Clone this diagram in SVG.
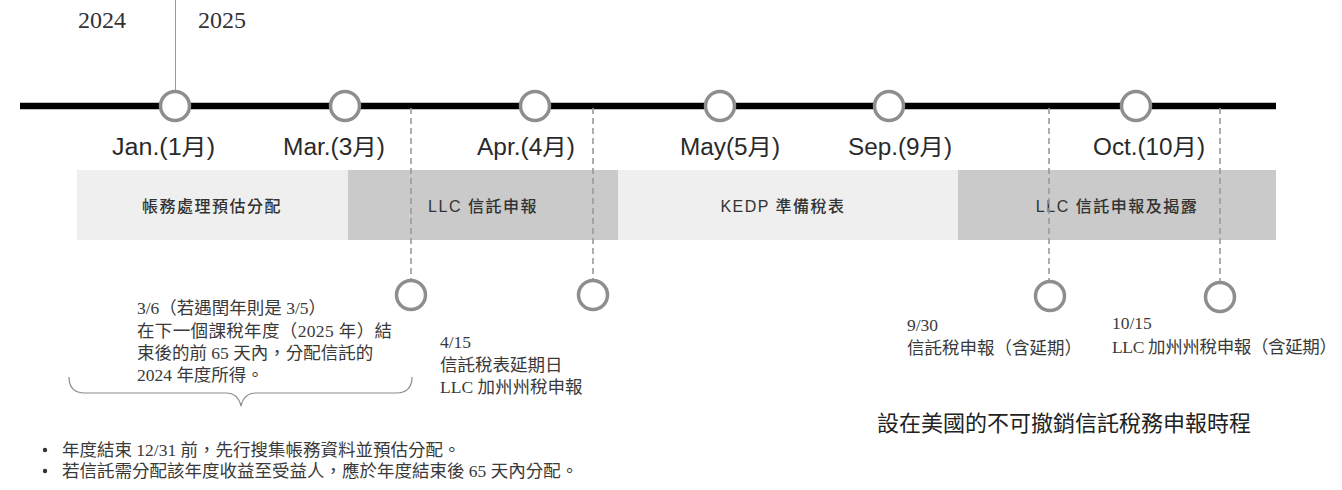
<svg xmlns="http://www.w3.org/2000/svg" width="1342" height="490" viewBox="0 0 1342 490" lang="zh-TW" xml:lang="zh-TW">
<style>
.bg{fill:#ffffff}
.barL{fill:#efefef}
.barD{fill:#c9cac9}
.dot{fill:#ffffff;stroke:#8e8e8e;stroke-width:3.5}
.month{font-family:"Liberation Sans","Noto Sans CJK TC",sans-serif;font-size:23px;fill:#2a2a2a}
.bar{font-family:"Liberation Sans","Noto Sans CJK TC",sans-serif;font-size:16px;font-weight:500;fill:#333333;text-anchor:middle;letter-spacing:1.5px}
.ser{font-family:"Liberation Serif","Noto Sans CJK TC",serif;font-size:17.5px;fill:#3a3a3a}
.bul{font-family:"Liberation Serif","Noto Sans CJK TC",serif;font-size:17.5px;fill:#3a3a3a}
.year{font-family:"Liberation Serif","Noto Sans CJK TC",serif;font-size:24px;fill:#333333}
.title{font-family:"Liberation Serif","Noto Sans CJK TC",serif;font-size:22px;fill:#222222}
.dash{stroke:#9a9a9a;stroke-width:1.6;stroke-dasharray:6 4;fill:none}
</style>
<rect class="bg" x="0" y="0" width="1342" height="490"/>

<g id="bars">
  <rect class="barL" x="77" y="170" width="271" height="70"/>
  <rect class="barD" x="348" y="170" width="270" height="70"/>
  <rect class="barL" x="618" y="170" width="340" height="70"/>
  <rect class="barD" x="958" y="170" width="318" height="70"/>
  <text class="bar" x="212" y="212">帳務處理預估分配</text>
  <text class="bar" x="483" y="212">LLC 信託申報</text>
  <text class="bar" x="783" y="212">KEDP 準備稅表</text>
  <text class="bar" x="1117" y="212">LLC 信託申報及揭露</text>
</g>

<g id="connectors">
  <line x1="175.5" y1="0" x2="175.5" y2="90" stroke="#9a9a9a" stroke-width="1"/>
  <line x1="20" y1="106" x2="1276" y2="106" stroke="#000000" stroke-width="6.5"/>
  <line class="dash" x1="411" y1="108" x2="411" y2="281"/>
  <line class="dash" x1="593" y1="108" x2="593" y2="281"/>
  <line class="dash" x1="1049" y1="108" x2="1049" y2="282"/>
  <line class="dash" x1="1220" y1="108" x2="1220" y2="283"/>
  <path d="M69,377 Q69,393 85,393 L226,393 Q238,393 241,406 Q244,393 256,393 L396,393 Q412,393 412,377" fill="none" stroke="#8a8a8a" stroke-width="1.2"/>
</g>

<g id="years">
  <text class="year" x="78" y="28">2024</text>
  <text class="year" x="198" y="28">2025</text>
</g>

<g id="jan">
  <circle class="dot" cx="175" cy="106" r="14.5"/>
  <text class="month" x="112" y="155" textLength="103" lengthAdjust="spacingAndGlyphs">Jan.(1月)</text>
</g>
<g id="mar">
  <circle class="dot" cx="345" cy="106" r="14.5"/>
  <text class="month" x="283" y="155" textLength="102" lengthAdjust="spacingAndGlyphs">Mar.(3月)</text>
</g>
<g id="apr">
  <circle class="dot" cx="535" cy="106" r="14.5"/>
  <text class="month" x="477" y="155" textLength="98" lengthAdjust="spacingAndGlyphs">Apr.(4月)</text>
</g>
<g id="may">
  <circle class="dot" cx="720" cy="106" r="14.5"/>
  <text class="month" x="680" y="155" textLength="100" lengthAdjust="spacingAndGlyphs">May(5月)</text>
</g>
<g id="sep">
  <circle class="dot" cx="889" cy="106" r="14.5"/>
  <text class="month" x="848" y="155" textLength="104" lengthAdjust="spacingAndGlyphs">Sep.(9月)</text>
</g>
<g id="oct">
  <circle class="dot" cx="1136" cy="106" r="14.5"/>
  <text class="month" x="1093" y="155" textLength="112" lengthAdjust="spacingAndGlyphs">Oct.(10月)</text>
</g>

<g id="d0415a">
  <circle class="dot" cx="411" cy="295" r="14.5"/>
</g>
<g id="d0415b">
  <circle class="dot" cx="593" cy="295" r="14.5"/>
  <text class="ser" x="440" y="348">4/15</text>
  <text class="ser" x="440" y="371">信託稅表延期日</text>
  <text class="ser" x="440" y="393">LLC 加州州稅申報</text>
</g>
<g id="d0930">
  <circle class="dot" cx="1050" cy="296" r="14.5"/>
  <text class="ser" x="907" y="331">9/30</text>
  <text class="ser" x="907" y="354" textLength="175" lengthAdjust="spacing">信託稅申報（含延期）</text>
</g>
<g id="d1015">
  <circle class="dot" cx="1220" cy="297" r="14.5"/>
  <text class="ser" x="1112" y="329">10/15</text>
  <text class="ser" x="1112" y="353" textLength="225" lengthAdjust="spacing">LLC 加州州稅申報（含延期）</text>
</g>

<g id="note">
  <text class="ser" x="137" y="314">3/6（若遇閏年則是 3/5）</text>
  <text class="ser" x="137" y="337" textLength="255" lengthAdjust="spacing">在下一個課稅年度（2025 年）結</text>
  <text class="ser" x="137" y="359">束後的前 65 天內，分配信託的</text>
  <text class="ser" x="137" y="381">2024 年度所得。</text>
</g>

<g id="bullets">
  <circle cx="45" cy="450" r="2.2" fill="#333333"/>
  <circle cx="45" cy="471" r="2.2" fill="#333333"/>
  <text class="bul" x="62" y="456">年度結束 12/31 前，先行搜集帳務資料並預估分配。</text>
  <text class="bul" x="62" y="477">若信託需分配該年度收益至受益人，應於年度結束後 65 天內分配。</text>
</g>

<g id="title">
  <text class="title" x="877" y="431">設在美國的不可撤銷信託稅務申報時程</text>
</g>
</svg>
